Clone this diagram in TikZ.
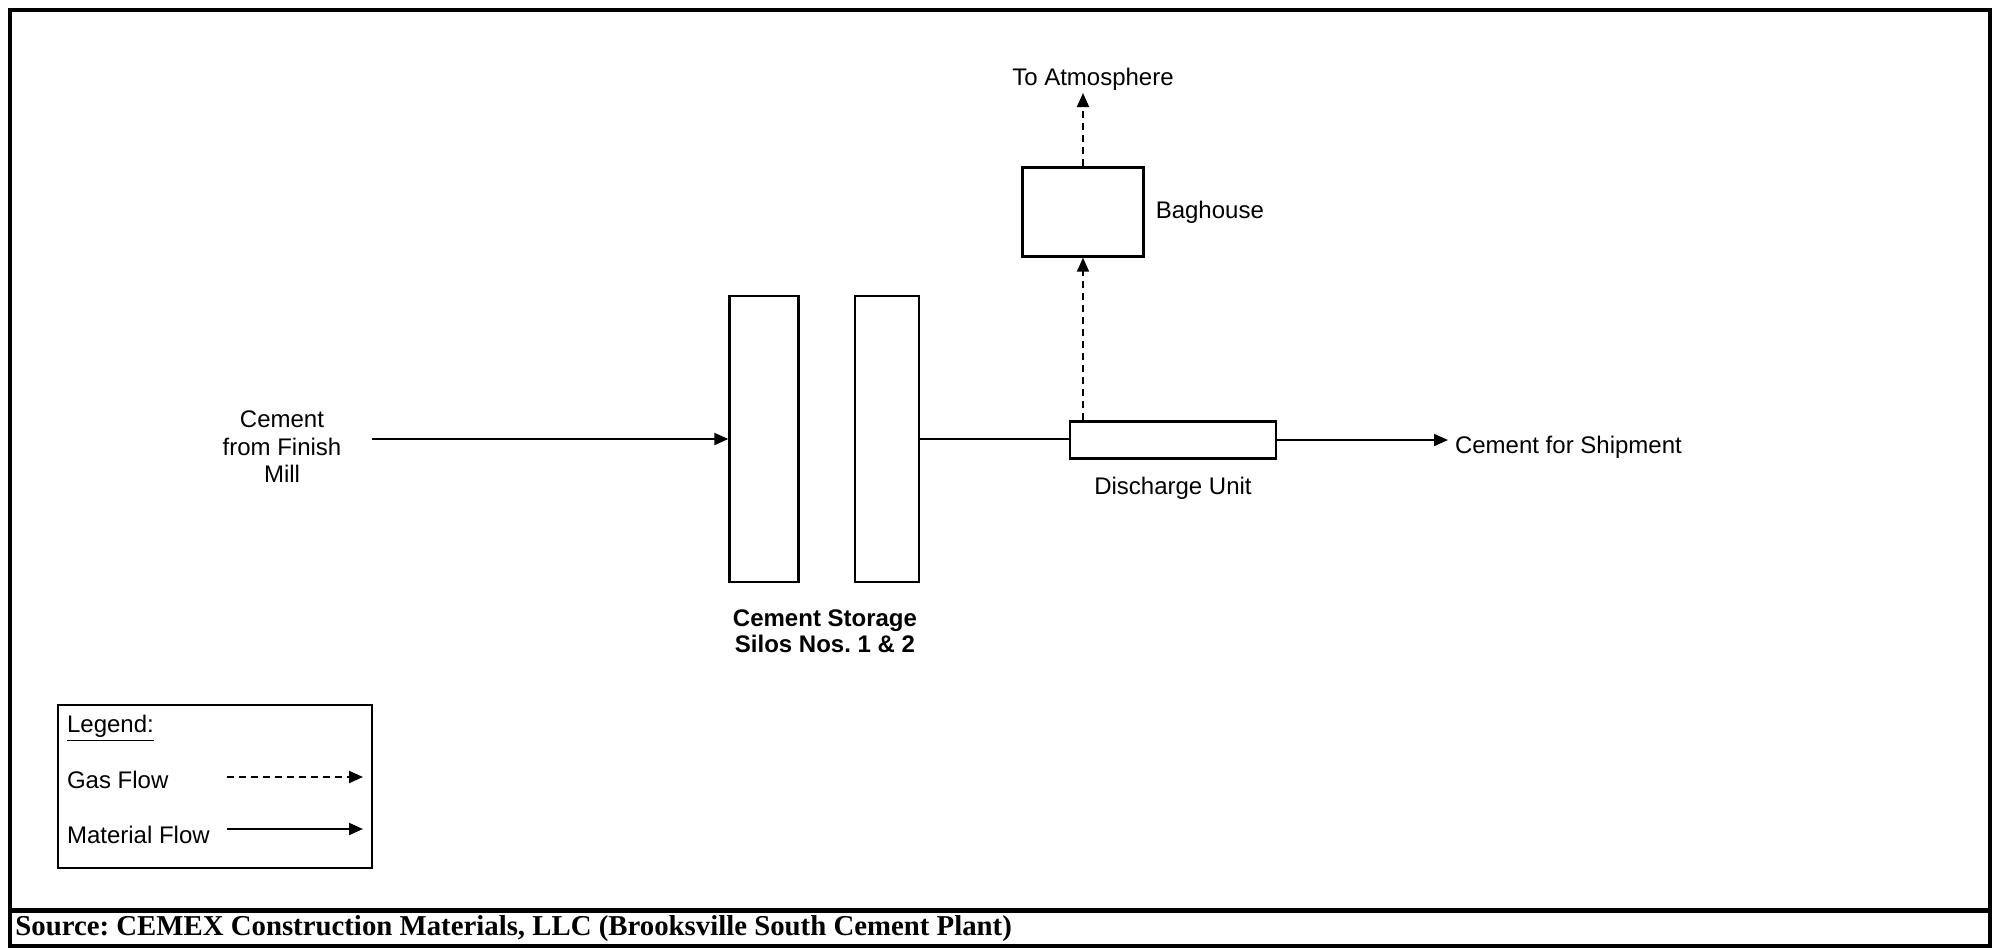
\documentclass[tikz,border=0pt]{standalone}
\usepackage{fontspec}
\setmainfont{Liberation Sans}
\newfontfamily\srcfont{Liberation Serif}
\usetikzlibrary{positioning, arrows.meta}
\frenchspacing

\begin{document}
\begin{tikzpicture}[
        x=0.5pt, y=-0.5pt,
        every node/.style={
            align=center,
            font=\fontsize{12}{13.75}\selectfont
        },
        unit/.style={
            rectangle,
            draw=black,
            line width=1.2pt,
            inner sep=0pt
        },
        matflow/.style={
            -{Triangle[length=7pt,width=6pt]},
            line width=1pt
        },
        gasflow/.style={
            -{Triangle[length=7pt,width=6pt]},
            line width=1pt,
            dash pattern=on 3.5pt off 2.5pt
        },
        frame/.style={
            line width=2pt
        }
    ]
    \useasboundingbox (0,0) rectangle (1994,949);

    % 外框
    \draw[frame] (10,10) rectangle (1990,946);
    \draw[frame, line width=2.5pt] (10,910) -- (1990,910);

    % 设备
    \node[unit, minimum width=34.5pt, minimum height=143pt] (silo1) at (764,439) {};
    \node[unit, minimum width=32pt, minimum height=143pt] (silo2) at (887,439) {};
    \node[unit, minimum width=103pt, minimum height=18.5pt] (discharge) at (1173,440) {};
    \node[unit, minimum width=60.5pt, minimum height=44.5pt] (baghouse) at (1083,212) {};

    % 文字
    \node (feed) at (282,447) {Cement\\from Finish\\Mill};
    \node[anchor=north, font=\bfseries\fontsize{12}{13}\selectfont] (silolbl) at (825,603)
        {Cement Storage\\Silos Nos. 1 \& 2};
    \node[below=5pt of discharge] (dischlbl) {Discharge Unit};
    \node[right=2pt of baghouse] (baglbl) {Baghouse};
    \node[anchor=south, inner sep=1pt] (atmos) at (1093,93) {To Atmosphere};
    \node[anchor=west] (ship) at (1448,447) {Cement for Shipment};

    % 物料流（实线）
    \draw[matflow, shorten <=12pt] (feed.east |- silo1) -- (silo1.west);
    \draw[line width=1pt] (silo2.east) -- (silo2 -| discharge.west);
    \draw[matflow] (discharge.east) -- (discharge.east -| ship.west);

    % 气流（虚线）
    \draw[gasflow] (baghouse.south |- discharge.north) -- (baghouse.south);
    \draw[gasflow] (baghouse.north) -- (baghouse.north |- atmos.south);

    % 图例
    \node[unit, minimum width=157pt, minimum height=81.5pt] (legend) at (215,786.5) {};
    \node[anchor=west] (leglbl) at (60,728) {\underline{Legend:}};
    \node[anchor=west] (gaslbl) at (60,780) {Gas Flow};
    \node[anchor=west] (matlbl) at (60,835) {Material Flow};
    \coordinate (gasA) at (227,777);
    \coordinate (gasB) at (363,777);
    \coordinate (matA) at (227,829);
    \coordinate (matB) at (363,829);
    \draw[gasflow] (gasA) -- (gasB);
    \draw[matflow] (matA) -- (matB);

    % 来源
    \node[anchor=west, inner sep=0pt, font=\srcfont\bfseries\fontsize{14.4}{17}\selectfont] (source) at (15,929)
        {Source: CEMEX Construction Materials, LLC (Brooksville South Cement Plant)};

\end{tikzpicture}
\end{document}
